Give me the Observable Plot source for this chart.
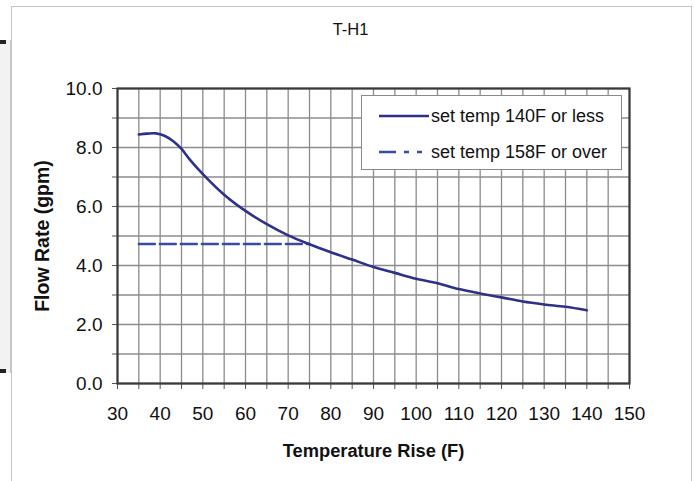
<!DOCTYPE html>
<html>
<head>
<meta charset="utf-8">
<script src="https://cdn.jsdelivr.net/npm/d3@7"></script>
<script src="https://cdn.jsdelivr.net/npm/@observablehq/plot@0.6"></script>
<style>
  body { margin: 0; background: #fff; font-family: "Liberation Sans", Arial, sans-serif; }
  #wrap { position: relative; width: 694px; height: 481px; overflow: hidden; }
  #border { position: absolute; left: 11px; top: 6px; width: 681px; height: 490px; border: 1.5px solid #c4c4c4; box-sizing: border-box; pointer-events: none; }
  #side { position: absolute; left: 0; top: 40px; width: 10px; height: 333px; background: #f2f2f2; border-right: 1px solid #c8c8c8; }
  #side::before, #side::after { content: ""; position: absolute; left: 0; width: 6px; height: 4px; background: #222; }
  #side::before { top: 0; }
  #side::after { bottom: 0; }
  #legend { position: absolute; left: 361px; top: 95px; width: 261px; height: 75px; border: 1.5px solid #8a8a8a; background: #fff; box-sizing: border-box; font-size: 18px; color: #111; }
  .row { position: absolute; left: 16px; display: flex; align-items: center; height: 22px; }
  .row svg { margin-right: 1px; }
</style>
</head>
<body>
<div id="wrap">
  <div id="side"></div>
  <div id="chart"></div>
  <div id="border"></div>
  <div id="legend"></div>
</div>
<script>
const title = "T-H1";
const xLabel = "Temperature Rise (F)";
const yLabel = "Flow Rate (gpm)";
const seriesNames = ["set temp 140F or less", "set temp 158F or over"];

const tempRise = [35, 37, 39, 41, 43, 45, 47, 50, 55, 60, 65, 70, 75, 80, 85, 90, 95, 100, 105, 110, 115, 120, 125, 130, 135, 140];
const flowLow  = [8.44, 8.47, 8.48, 8.4, 8.22, 7.95, 7.58, 7.1, 6.4, 5.85, 5.4, 5.02, 4.72, 4.45, 4.2, 3.95, 3.75, 3.55, 3.4, 3.2, 3.05, 2.92, 2.78, 2.68, 2.6, 2.48];
const highX = [35, 75];
const highY = [4.73, 4.73];

const xMinor = d3.range(30, 151, 5);
const yMinor = d3.range(0, 10.01, 1);

const lowData = tempRise.map((x, i) => ({x, y: flowLow[i]}));
const highData = highX.map((x, i) => ({x, y: highY[i]}));

const solidColor = "#2d3188";
const dashColor = "#3a48a6";

const chart = Plot.plot({
  width: 694,
  height: 481,
  marginLeft: 117,
  marginRight: 65,
  marginTop: 88,
  marginBottom: 98,
  style: { fontFamily: "'Liberation Sans', Arial, sans-serif", background: "transparent" },
  x: { domain: [30, 150] },
  y: { domain: [0, 10] },
  marks: [
    Plot.gridX(xMinor, { stroke: "#8c8c8c", strokeOpacity: 1, strokeWidth: 1.3 }),
    Plot.gridY(yMinor, { stroke: "#8c8c8c", strokeOpacity: 1, strokeWidth: 1.3 }),
    Plot.axisX(xMinor, { tickSize: 6, tickPadding: 17, stroke: "#555", fontSize: 19, fill: "#111",
      tickFormat: d => d % 10 === 0 ? String(d) : "", label: null }),
    Plot.axisY(yMinor, { tickSize: 5, tickPadding: 10, stroke: "#555", fontSize: 19, fill: "#111",
      tickFormat: d => d % 2 === 0 ? d.toFixed(1) : "", label: null }),
    Plot.frame({ stroke: "#3a3a3a", strokeWidth: 2.2 }),
    Plot.line(highData, { x: "x", y: "y", stroke: dashColor, strokeWidth: 2.4, strokeDasharray: "16,5" }),
    Plot.line(lowData, { x: "x", y: "y", stroke: solidColor, strokeWidth: 2.6, curve: "catmull-rom" }),
    Plot.text([title], { frameAnchor: "top", dx: -23, dy: -65, fontSize: 16.5, fill: "#111" }),
    Plot.text([xLabel], { frameAnchor: "bottom", dx: 0, dy: 73, fontSize: 18.3, fontWeight: "bold", fill: "#111" }),
    Plot.text([yLabel], { frameAnchor: "left", textAnchor: "middle", lineAnchor: "middle", dx: -75, rotate: -90, fontSize: 19.5, fontWeight: "bold", fill: "#111" })
  ]
});
document.getElementById("chart").appendChild(chart);

const legend = document.getElementById("legend");
const styles = [
  { color: solidColor, dash: null, top: 9 },
  { color: dashColor, dash: "17,8,5,8,5,8", top: 45 }
];
seriesNames.forEach((name, i) => {
  const s = styles[i];
  const row = document.createElement("div");
  row.className = "row";
  row.style.top = s.top + "px";
  row.innerHTML = `<svg width="52" height="20"><line x1="1" y1="10" x2="51" y2="10" stroke="${s.color}" stroke-width="2.6" ${s.dash ? `stroke-dasharray="${s.dash}"` : ""}/></svg><span>${name}</span>`;
  legend.appendChild(row);
});
</script>
</body>
</html>
